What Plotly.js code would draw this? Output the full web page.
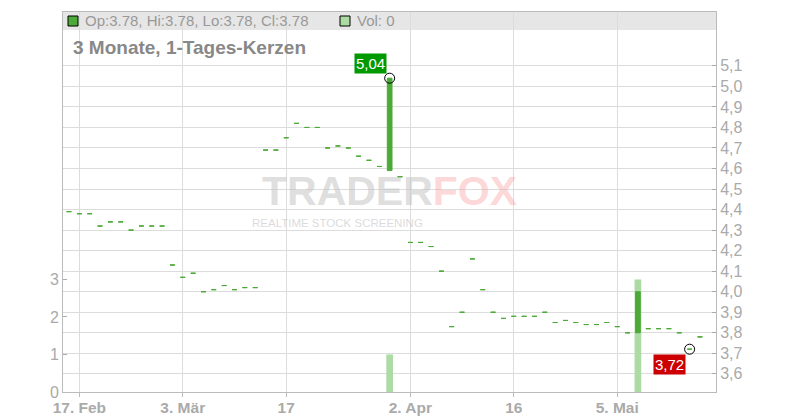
<!DOCTYPE html>
<html>
<head>
<meta charset="utf-8">
<script src="https://cdn.plot.ly/plotly-3.0.1.min.js"></script>
<style>html,body{margin:0;padding:0;background:#fff;}#chart{width:800px;height:420px;}</style>
</head>
<body>
<div id="chart"></div>
<script>
// Trading days (category axis)
const dates = [
 '2025-02-14','2025-02-17','2025-02-18','2025-02-19','2025-02-20','2025-02-21','2025-02-24','2025-02-25','2025-02-26','2025-02-27','2025-02-28',
 '2025-03-03','2025-03-04','2025-03-05','2025-03-06','2025-03-07','2025-03-10','2025-03-11','2025-03-12','2025-03-13','2025-03-14',
 '2025-03-17','2025-03-18','2025-03-19','2025-03-20','2025-03-21','2025-03-24','2025-03-25','2025-03-26','2025-03-27','2025-03-28','2025-03-31',
 '2025-04-01','2025-04-02','2025-04-03','2025-04-04','2025-04-07','2025-04-08','2025-04-09','2025-04-10','2025-04-11','2025-04-14','2025-04-15',
 '2025-04-16','2025-04-17','2025-04-22','2025-04-23','2025-04-24','2025-04-25','2025-04-28','2025-04-29','2025-04-30','2025-05-02',
 '2025-05-05','2025-05-06','2025-05-07','2025-05-08','2025-05-09','2025-05-12','2025-05-13','2025-05-14','2025-05-15'
];
const openP = [4.39,4.38,4.38,4.32,4.34,4.34,4.30,4.32,4.32,4.32,4.13,
 4.07,4.09,4.00,4.01,4.03,4.01,4.02,4.02,4.69,4.69,
 4.75,4.82,4.80,4.80,4.70,4.71,4.70,4.66,4.64,4.61,4.59,
 4.56,4.24,4.24,4.22,4.10,3.83,3.90,4.16,4.01,3.90,3.87,
 3.88,3.88,3.88,3.90,3.85,3.86,3.85,3.84,3.84,3.85,
 3.83,3.80,3.80,3.82,3.82,3.82,3.80,3.72,3.78];
const highP = [4.39,4.38,4.38,4.32,4.34,4.34,4.30,4.32,4.32,4.32,4.13,
 4.07,4.09,4.00,4.01,4.03,4.01,4.02,4.02,4.69,4.69,
 4.75,4.82,4.80,4.80,4.70,4.71,4.70,4.66,4.64,4.61,5.04,
 4.56,4.24,4.24,4.22,4.10,3.83,3.90,4.16,4.01,3.90,3.87,
 3.88,3.88,3.88,3.90,3.85,3.86,3.85,3.84,3.84,3.85,
 3.83,3.80,4.00,3.82,3.82,3.82,3.80,3.72,3.78];
const lowP = [4.39,4.38,4.38,4.32,4.34,4.34,4.30,4.32,4.32,4.32,4.13,
 4.07,4.09,4.00,4.01,4.03,4.01,4.02,4.02,4.69,4.69,
 4.75,4.82,4.80,4.80,4.70,4.71,4.70,4.66,4.64,4.61,4.59,
 4.56,4.24,4.24,4.22,4.10,3.83,3.90,4.16,4.01,3.90,3.87,
 3.88,3.88,3.88,3.90,3.85,3.86,3.85,3.84,3.84,3.85,
 3.83,3.80,3.80,3.82,3.82,3.82,3.80,3.72,3.78];
const closeP = [4.39,4.38,4.38,4.32,4.34,4.34,4.30,4.32,4.32,4.32,4.13,
 4.07,4.09,4.00,4.01,4.03,4.01,4.02,4.02,4.69,4.69,
 4.75,4.82,4.80,4.80,4.70,4.71,4.70,4.66,4.64,4.61,5.04,
 4.56,4.24,4.24,4.22,4.10,3.83,3.90,4.16,4.01,3.90,3.87,
 3.88,3.88,3.88,3.90,3.85,3.86,3.85,3.84,3.84,3.85,
 3.83,3.80,4.00,3.82,3.82,3.82,3.80,3.72,3.78];
const volume = [0,0,0,0,0,0,0,0,0,0,0,
 0,0,0,0,0,0,0,0,0,0,
 0,0,0,0,0,0,0,0,0,0,1,
 0,0,0,0,0,0,0,0,0,0,0,
 0,0,0,0,0,0,0,0,0,0,
 0,0,3,0,0,0,0,0,0];
const tickDates = ['2025-02-17','2025-03-03','2025-03-17','2025-04-02','2025-04-16','2025-05-05'];
const tickLabels = ['17. Feb','3. Mär','17','2. Apr','16','5. Mai'];
const priceTicks = [3.6,3.7,3.8,3.9,4.0,4.1,4.2,4.3,4.4,4.5,4.6,4.7,4.8,4.9,5.0,5.1];
const volTicks = [0,1,2,3];
const title = '3 Monate, 1-Tages-Kerzen';

const GREEN = '#4caa38', LIGHT = '#acdca4', GRAY = '#aaaaaa';
const FONT = 'Liberation Sans, Arial, sans-serif';

let iMax = 0, iMin = 0;
highP.forEach((v,i)=>{ if (v > highP[iMax]) iMax = i; });
lowP.forEach((v,i)=>{ if (v < lowP[iMin]) iMin = i; });
const last = dates.length - 1;
const fmt = v => v.toFixed(2).replace('.', ',');

const traces = [
  {type:'bar', x:dates, y:volume, yaxis:'y', marker:{color:LIGHT, line:{width:0}}, width:0.65, hoverinfo:'skip'},
  {type:'candlestick', x:dates, open:openP, high:highP, low:lowP, close:closeP, yaxis:'y2',
   whiskerwidth:0,
   increasing:{line:{color:GREEN, width:1}, fillcolor:GREEN},
   decreasing:{line:{color:GREEN, width:1}, fillcolor:GREEN}},
  {type:'scatter', mode:'markers', x:[dates[iMax], dates[iMin]], y:[highP[iMax], lowP[iMin]], yaxis:'y2',
   marker:{symbol:'circle-open', size:10, color:'#000', line:{width:1, color:'#000'}}, hoverinfo:'skip'}
];

const pw = 653, ph = 380;
const px = x => (x - 63) / pw;
const py = y => (392 - y) / ph;

const layout = {
  width:800, height:420,
  margin:{l:63, r:84, t:12, b:28, pad:0},
  paper_bgcolor:'#fff', plot_bgcolor:'#fff',
  showlegend:false, separators:',.', boxgap:0.35,
  font:{family:FONT},
  xaxis:{type:'category', categoryorder:'array', categoryarray:dates, range:[-0.58, 62.55],
    tickmode:'array', tickvals:tickDates, ticktext:tickLabels,
    ticks:'outside', ticklen:4, tickcolor:'#bbb', ticklabelstandoff:-3,
    showgrid:true, gridcolor:'#dcdcdc', showline:true, linecolor:'#bbb', mirror:true,
    tickfont:{family:FONT, size:15.5, color:GRAY, weight:'bold'},
    rangeslider:{visible:false}, fixedrange:true},
  yaxis:{range:[0, 10.13], tickmode:'array', tickvals:volTicks, side:'left',
    ticks:'inside', ticklen:4, tickcolor:GRAY, showgrid:false, zeroline:false,
    showline:true, linecolor:'#bbb', tickfont:{family:FONT, size:16, color:GRAY}, fixedrange:true},
  yaxis2:{overlaying:'y', side:'right', range:[3.5115, 5.3624], tickmode:'array', tickvals:priceTicks,
    tickformat:'.1f', ticks:'inside', ticklen:4, tickcolor:GRAY, showgrid:true, gridcolor:'#dcdcdc',
    zeroline:false, showline:true, linecolor:'#bbb', tickfont:{family:FONT, size:16, color:GRAY}, fixedrange:true},
  shapes:[
    {type:'rect', xref:'paper', yref:'paper', x0:0, x1:1, y0:py(30), y1:1, fillcolor:'#e6e6e6', line:{width:0}, layer:'below'},
    {type:'rect', xref:'paper', yref:'paper', x0:px(68), x1:px(78), y0:py(26), y1:py(16), fillcolor:GREEN, line:{width:1, color:'#000'}},
    {type:'rect', xref:'paper', yref:'paper', x0:px(340), x1:px(350), y0:py(26), y1:py(16), fillcolor:LIGHT, line:{width:1, color:'#000'}}
  ],
  annotations:[
    {xref:'paper', yref:'paper', x:px(83), y:py(21), xanchor:'left', yanchor:'middle', showarrow:false,
     text:'Op:' + openP[last].toFixed(2) + ', Hi:' + highP[last].toFixed(2) + ', Lo:' + lowP[last].toFixed(2) + ', Cl:' + closeP[last].toFixed(2),
     font:{family:FONT, size:15, color:'#999'}},
    {xref:'paper', yref:'paper', x:px(355), y:py(21), xanchor:'left', yanchor:'middle', showarrow:false,
     text:'Vol: ' + volume[last], font:{family:FONT, size:15, color:'#999'}},
    {xref:'paper', yref:'paper', x:px(71), y:py(48), xanchor:'left', yanchor:'middle', showarrow:false,
     text:title, font:{family:FONT, size:19, color:'#888', weight:'bold'}},
    {xref:'paper', yref:'paper', x:px(390), y:py(191), xanchor:'center', yanchor:'middle', showarrow:false,
     text:'<span style="color:rgba(195,195,195,0.55)">TRADER</span><span style="color:rgba(248,160,160,0.42)">FOX</span>',
     font:{family:FONT, size:41, weight:'bold'}},
    {xref:'paper', yref:'paper', x:px(250), y:py(223), xanchor:'left', yanchor:'middle', showarrow:false,
     text:'REALTIME STOCK SCREENING', font:{family:FONT, size:11.5, color:'rgba(195,195,195,0.6)'}},
    {xref:'x', yref:'y2', x:dates[iMax], y:highP[iMax], xanchor:'right', yanchor:'bottom', xshift:-3, yshift:4,
     showarrow:false, text:fmt(highP[iMax]), bgcolor:'#009900', borderpad:1,
     font:{family:FONT, size:15, color:'#fff'}},
    {xref:'x', yref:'y2', x:dates[iMin], y:lowP[iMin], xanchor:'right', yanchor:'top', xshift:-4, yshift:-5,
     showarrow:false, text:fmt(lowP[iMin]), bgcolor:'#cc0000', borderpad:1,
     font:{family:FONT, size:15, color:'#fff'}}
  ]
};

Plotly.newPlot('chart', traces, layout, {staticPlot:true, displayModeBar:false});
</script>
</body>
</html>
